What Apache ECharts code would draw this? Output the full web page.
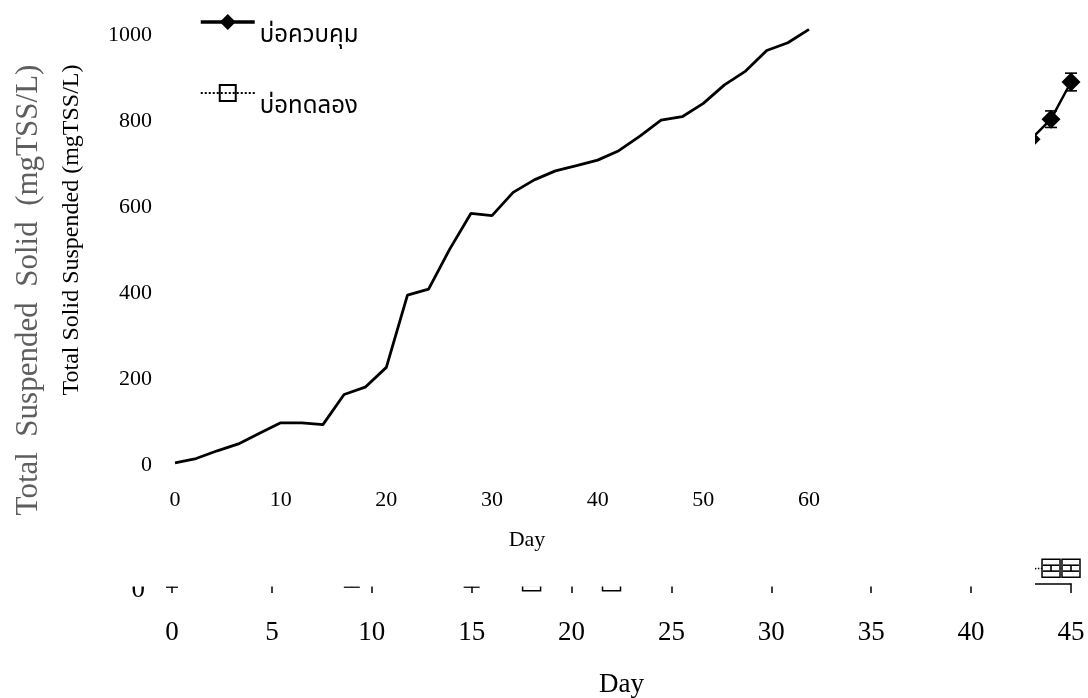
<!DOCTYPE html>
<html>
<head>
<meta charset="utf-8">
<script src="https://cdn.jsdelivr.net/npm/echarts@6/dist/echarts.min.js"></script>
<style>
  html, body { margin: 0; padding: 0; background: #ffffff; }
  #chart { width: 1088px; height: 698px; }
</style>
</head>
<body>
<div id="chart"></div>
<script>
// Pond names shown in the legend
const pondNames = ['บ่อควบคุม', 'บ่อทดลอง'];

// Front chart: TSS of the control pond, sampled every two days (day 0 - 60)
const frontDays = [0, 2, 4, 6, 8, 10, 12, 14, 16, 18, 20, 22, 24, 26, 28, 30,
                   32, 34, 36, 38, 40, 42, 44, 46, 48, 50, 52, 54, 56, 58, 60];
const frontControl = [5, 15, 33, 49, 74, 98, 98, 94, 164, 181, 227, 395, 409, 502, 585, 580,
                      634, 663, 684, 696, 709, 731, 765, 802, 810, 841, 884, 916, 964, 982, 1013];
const frontTrial = [];
const frontXTicks = [0, 10, 20, 30, 40, 50, 60];
const frontYTicks = [0, 200, 400, 600, 800, 1000];

// Back chart (day 0 - 45): points with standard-deviation bars
const backControlDays = [0, 43, 44, 45];
const backControl = [20, 764, 798, 861];
const backControlSd = [15, 0, 14, 15];
const backTrialDays = [9, 15, 18, 22, 44, 45];
const backTrial = [30, 30, 14, 14, 37, 37];
const backTrialSd = [25, 25, 6, 0, 5, 5];
const backXTicks = [0, 5, 10, 15, 20, 25, 30, 35, 40, 45];
const backYTicks = [0, 200, 400, 600, 800, 1000];

const SERIF = "'Liberation Serif', 'Times New Roman', serif";
const THAI = "'Angsana New', 'TH Sarabun New', 'Noto Sans Thai', 'Noto Serif Thai', 'Loma', 'Garuda', 'Noto Sans', sans-serif";

const pairs = (xs, ys) => xs.map((x, i) => [x, ys[i]]);
const bars = (xs, ys, sd) => xs.map((x, i) => [x, ys[i] - sd[i], ys[i] + sd[i]]).filter((d, i) => sd[i] > 0);
const plain = v => String(v);

function errorBar(capHalf) {
  return function (params, api) {
    const x = api.value(0);
    const lo = api.coord([x, api.value(1)]);
    const hi = api.coord([x, api.value(2)]);
    const style = { stroke: '#000', lineWidth: 1.6, fill: null };
    return {
      type: 'group',
      children: [
        { type: 'line', shape: { x1: lo[0], y1: lo[1], x2: hi[0], y2: hi[1] }, style },
        { type: 'line', shape: { x1: lo[0] - capHalf, y1: lo[1], x2: lo[0] + capHalf, y2: lo[1] }, style },
        { type: 'line', shape: { x1: hi[0] - capHalf, y1: hi[1], x2: hi[0] + capHalf, y2: hi[1] }, style }
      ]
    };
  };
}

const step = a => a[1] - a[0];

const chart = echarts.init(document.getElementById('chart'), null, { renderer: 'canvas' });

chart.setOption({
  animation: false,
  backgroundColor: '#ffffff',
  grid: [
    { left: 172, right: 17, top: 0, bottom: 108, outerBoundsMode: 'none', containLabel: false },
    { left: 175, right: 279, top: 35, bottom: 233, outerBoundsMode: 'none', containLabel: false }
  ],
  xAxis: [
    {
      gridIndex: 0, type: 'value',
      min: backXTicks[0], max: backXTicks[backXTicks.length - 1], interval: step(backXTicks),
      offset: -6.5,
      name: 'Day', nameLocation: 'middle', nameGap: 88,
      nameTextStyle: { fontFamily: SERIF, fontSize: 27, color: '#000' },
      axisLine: { show: true, lineStyle: { color: '#000', width: 1.5 } },
      axisTick: { show: true, inside: false, length: 9.5, lineStyle: { color: '#000', width: 1.5 } },
      axisLabel: { fontFamily: SERIF, fontSize: 27, color: '#000', margin: 36, formatter: plain },
      splitLine: { show: false }
    },
    {
      gridIndex: 1, type: 'value', z: 20,
      min: frontXTicks[0], max: frontXTicks[frontXTicks.length - 1], interval: step(frontXTicks),
      name: 'Day', nameLocation: 'middle', nameGap: 64,
      nameTextStyle: { fontFamily: SERIF, fontSize: 22, color: '#000', padding: [0, 0, 0, 70] },
      axisLine: { show: false }, axisTick: { show: false },
      axisLabel: { fontFamily: SERIF, fontSize: 22, color: '#000', margin: 24, formatter: plain },
      splitLine: { show: false }
    }
  ],
  yAxis: [
    {
      gridIndex: 0, type: 'value',
      min: backYTicks[0], max: backYTicks[backYTicks.length - 1], interval: step(backYTicks),
      name: 'Total  Suspended  Solid  (mgTSS/L)', nameLocation: 'middle', nameGap: 128,
      nameTextStyle: { fontFamily: SERIF, fontSize: 31, color: '#5e5e5e', padding: [0, 0, 0, 10] },
      axisLine: { show: false }, axisTick: { show: false },
      axisLabel: { fontFamily: SERIF, fontSize: 27, color: '#000', margin: 27, formatter: plain },
      splitLine: { show: false }
    },
    {
      gridIndex: 1, type: 'value', z: 20,
      min: frontYTicks[0], max: frontYTicks[frontYTicks.length - 1], interval: step(frontYTicks),
      name: 'Total Solid Suspended (mgTSS/L)', nameLocation: 'middle', nameGap: 91,
      nameTextStyle: { fontFamily: SERIF, fontSize: 24, color: '#000', padding: [0, 0, 0, 40] },
      axisLine: { show: false }, axisTick: { show: false },
      axisLabel: { fontFamily: SERIF, fontSize: 22, color: '#000', margin: 23, formatter: plain },
      splitLine: { show: false }
    }
  ],
  legend: {
    data: [
      { name: pondNames[0], lineStyle: { width: 3.5 } },
      { name: pondNames[1], lineStyle: { width: 2 } }
    ],
    orient: 'vertical',
    left: 199, top: 14,
    z: 30,
    padding: 0,
    itemWidth: 54, itemHeight: 20, itemGap: 35,
    formatter: '{t|{name}}',
    textStyle: {
      rich: { t: { fontFamily: THAI, fontSize: 24, color: '#000', padding: [30, 0, 0, 0] } }
    }
  },
  // White sheet of the front chart lying over the back chart
  graphic: [
    { type: 'rect', z: 10, silent: true, shape: { x: 50, y: 0, width: 985, height: 586.5 }, style: { fill: '#ffffff' } }
  ],
  series: [
    // back chart
    {
      type: 'line', xAxisIndex: 0, yAxisIndex: 0, z: 2,
      data: pairs(backControlDays, backControl),
      symbol: 'diamond', symbolSize: 19, showSymbol: true,
      lineStyle: { color: '#000', width: 2.5 },
      itemStyle: { color: '#000' }
    },
    {
      type: 'line', xAxisIndex: 0, yAxisIndex: 0, z: 2,
      data: pairs(backTrialDays, backTrial),
      symbol: 'rect', symbolSize: 18, showSymbol: true,
      lineStyle: { color: '#000', width: 1.5, type: 'dotted' },
      itemStyle: { color: '#ffffff', borderColor: '#000', borderWidth: 1.5 }
    },
    {
      type: 'custom', xAxisIndex: 0, yAxisIndex: 0, z: 3,
      data: bars(backControlDays, backControl, backControlSd),
      renderItem: errorBar(6)
    },
    {
      type: 'custom', xAxisIndex: 0, yAxisIndex: 0, z: 3,
      data: bars(backTrialDays, backTrial, backTrialSd),
      renderItem: errorBar(8)
    },
    // front chart
    {
      name: pondNames[0], type: 'line', xAxisIndex: 1, yAxisIndex: 1, z: 20,
      data: pairs(frontDays, frontControl),
      clip: false,
      symbol: 'diamond', showSymbol: false,
      lineStyle: { color: '#000', width: 2.8 },
      itemStyle: { color: '#000' }
    },
    {
      name: pondNames[1], type: 'line', xAxisIndex: 1, yAxisIndex: 1, z: 20,
      data: frontTrial,
      symbol: 'rect',
      lineStyle: { color: '#000', width: 2, type: 'dotted' },
      itemStyle: { color: 'rgba(255,255,255,0)', borderColor: '#000', borderWidth: 1.5 }
    }
  ]
});
</script>
</body>
</html>
